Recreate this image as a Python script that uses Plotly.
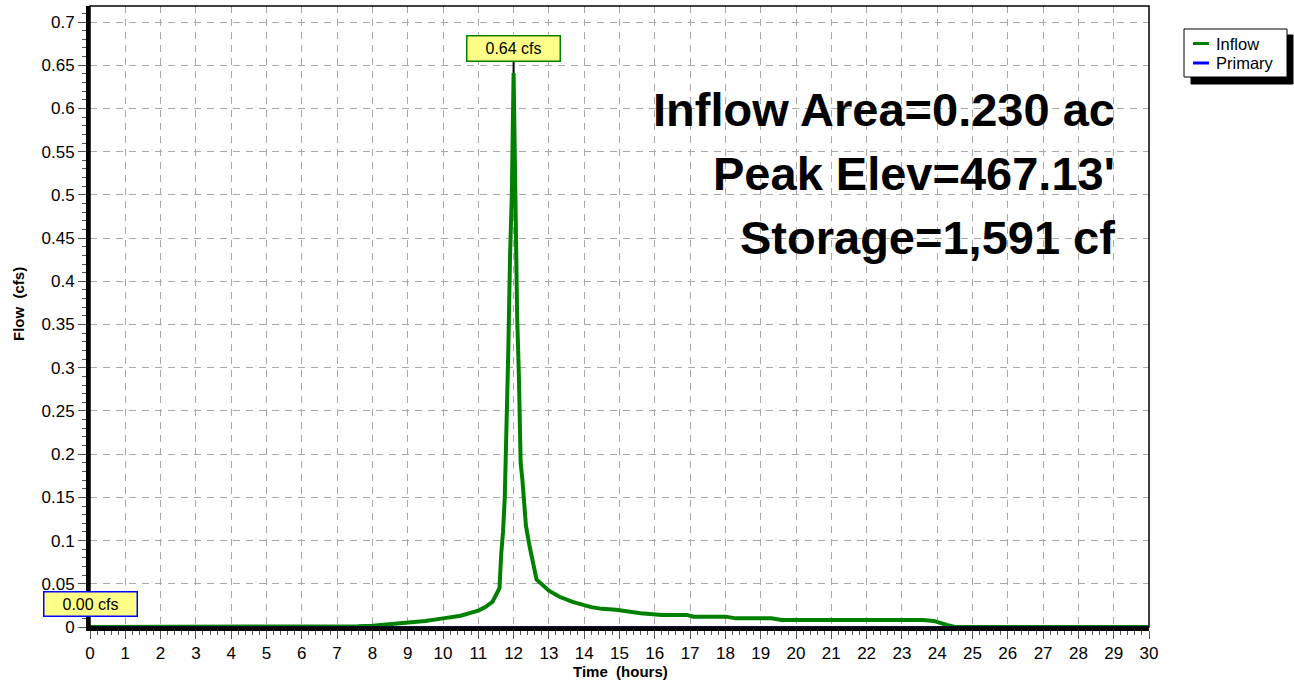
import plotly.graph_objects as go

# ---------------- data ----------------
inflow_time = [0.0, 7.0, 7.3, 7.6, 8.0, 8.3, 8.6, 9.0, 9.5, 10.0, 10.5, 11.0, 11.2, 11.4,
               11.5, 11.6, 11.65, 11.7, 11.75, 11.8, 11.85, 11.9, 11.95, 12.0, 12.05,
               12.1, 12.15, 12.2, 12.25, 12.35, 12.45, 12.65, 13.0, 13.3, 13.67, 14.2,
               14.5, 14.9, 15.6, 16.2, 16.9, 17.1, 18.0, 18.3, 19.3, 19.6, 23.6, 23.9,
               24.3, 24.5, 30.0]
inflow_cfs = [0.0, 0.0, 0.0005, 0.001, 0.0015, 0.0025, 0.003, 0.005, 0.007, 0.010, 0.013,
              0.019, 0.023, 0.029, 0.036, 0.045, 0.085, 0.11, 0.15, 0.22, 0.32, 0.43, 0.50,
              0.641, 0.49, 0.36, 0.29, 0.19, 0.17, 0.117, 0.094, 0.055, 0.042, 0.035, 0.029,
              0.023, 0.021, 0.020, 0.016, 0.014, 0.014, 0.012, 0.012, 0.010, 0.010, 0.008,
              0.008, 0.007, 0.002, 0.0, 0.0]
primary_time = [0.0, 30.0]
primary_cfs = [0.0, 0.0]

peak_label = "0.64 cfs"
primary_label = "0.00 cfs"
info_lines = ["Inflow Area=0.230 ac", "Peak Elev=467.13'", "Storage=1,591 cf"]
series_names = ["Inflow", "Primary"]
series_colors = ["#008000", "#0000ff"]

# ---------------- layout geometry (pixels) ----------------
W, H = 1294, 684
L, R, T, B = 90, 145, 6, 57
PW, PH = W - L - R, H - T - B
FONT = "Liberation Sans, Arial, sans-serif"


def px2x(px):
    return (px - L) / PW


def py2y(py):
    return (H - B - py) / PH


fig = go.Figure()
fig.add_trace(go.Scatter(x=inflow_time, y=inflow_cfs, mode="lines", name=series_names[0],
                         line=dict(color=series_colors[0], width=4), showlegend=False))
fig.add_trace(go.Scatter(x=primary_time, y=primary_cfs, mode="lines", name=series_names[1],
                         line=dict(color=series_colors[1], width=1.5), showlegend=False))

ppu = (H - B - 22) / 0.7  # pixels per cfs
ymax = (H - B - T) / ppu

axis_common = dict(showgrid=True, gridcolor="#a8a8a8", griddash="7px,6px", gridwidth=1,
                   showline=True, linecolor="black", linewidth=4, ticks="outside",
                   tickcolor="#555555", ticklen=8, tickwidth=1, zeroline=False,
                   tickfont=dict(family=FONT, size=17, color="black"))

fig.update_xaxes(range=[0, 30], dtick=1, tick0=0,
                 minor=dict(dtick=0.2, ticks="outside", ticklen=4, tickcolor="#555555",
                            showgrid=False),
                 **axis_common)
fig.update_yaxes(range=[0, ymax], dtick=0.05, tick0=0,
                 minor=dict(dtick=0.01, ticks="outside", ticklen=4, tickcolor="#555555",
                            showgrid=False),
                 **axis_common)

shapes = []
# thin top/right border
shapes.append(dict(type="rect", xref="paper", yref="paper", x0=0, x1=1, y0=0, y1=1,
                   line=dict(color="black", width=1.5), fillcolor="rgba(0,0,0,0)", layer="above"))
# connector from peak label to peak
peak_i = inflow_cfs.index(max(inflow_cfs))
shapes.append(dict(type="line", xref="x", yref="y", x0=inflow_time[peak_i], x1=inflow_time[peak_i],
                   y0=inflow_cfs[peak_i], y1=(H - B - 61) / ppu,
                   line=dict(color="black", width=2)))
# legend shadow + box
shapes.append(dict(type="rect", xref="paper", yref="paper", x0=px2x(1191), x1=px2x(1293),
                   y0=py2y(35), y1=py2y(84), fillcolor="black", line=dict(color="black", width=1)))
shapes.append(dict(type="rect", xref="paper", yref="paper", x0=px2x(1184), x1=px2x(1287),
                   y0=py2y(29), y1=py2y(77), fillcolor="white", line=dict(color="black", width=1)))
for i, (name, col) in enumerate(zip(series_names, series_colors)):
    yy = py2y(43.5 + 19.5 * i)
    shapes.append(dict(type="line", xref="paper", yref="paper", x0=px2x(1193), x1=px2x(1209),
                       y0=yy, y1=yy, line=dict(color=col, width=3)))

annotations = []
for i, name in enumerate(series_names):
    annotations.append(dict(xref="paper", yref="paper", x=px2x(1214), y=py2y(43.5 + 19.5 * i),
                            xanchor="left", yanchor="middle", text=name, showarrow=False,
                            font=dict(family=FONT, size=16.5, color="black")))

# value labels
annotations.append(dict(xref="x", yref="paper", x=inflow_time[peak_i], y=py2y(48.5),
                        text=peak_label, showarrow=False, bgcolor="#ffff88",
                        bordercolor=series_colors[0], borderwidth=1.5, borderpad=3,
                        width=86, height=18, xanchor="center", yanchor="middle",
                        font=dict(family=FONT, size=16, color="black")))
annotations.append(dict(xref="paper", yref="paper", x=px2x(90.5), y=py2y(604),
                        text=primary_label, showarrow=False, bgcolor="#ffff88",
                        bordercolor=series_colors[1], borderwidth=1.5, borderpad=3,
                        width=86, height=17, xanchor="center", yanchor="middle",
                        font=dict(family=FONT, size=16, color="black")))

# info text
for i, line in enumerate(info_lines):
    annotations.append(dict(xref="paper", yref="paper", x=px2x(1117), y=py2y(110 + 63.5 * i),
                            xanchor="right", yanchor="middle", text="<b>%s</b>" % line,
                            showarrow=False, font=dict(family=FONT, size=47, color="black")))

# axis titles
annotations.append(dict(xref="paper", yref="paper", x=px2x(620), y=py2y(671),
                        xanchor="center", yanchor="middle", text="<b>Time&nbsp; (hours)</b>",
                        showarrow=False, font=dict(family=FONT, size=15, color="black")))
annotations.append(dict(xref="paper", yref="paper", x=px2x(18), y=py2y(304),
                        xanchor="center", yanchor="middle", text="<b>Flow&nbsp; (cfs)</b>",
                        textangle=-90, showarrow=False,
                        font=dict(family=FONT, size=15, color="black")))

fig.update_layout(width=W, height=H, margin=dict(l=L, r=R, t=T, b=B),
                  paper_bgcolor="white", plot_bgcolor="white", showlegend=False,
                  shapes=shapes, annotations=annotations,
                  font=dict(family=FONT, color="black"))

fig.write_html("out.html", config={"displayModeBar": False, "staticPlot": True},
               post_script="document.body.style.margin='0';document.body.style.overflow='hidden';")
